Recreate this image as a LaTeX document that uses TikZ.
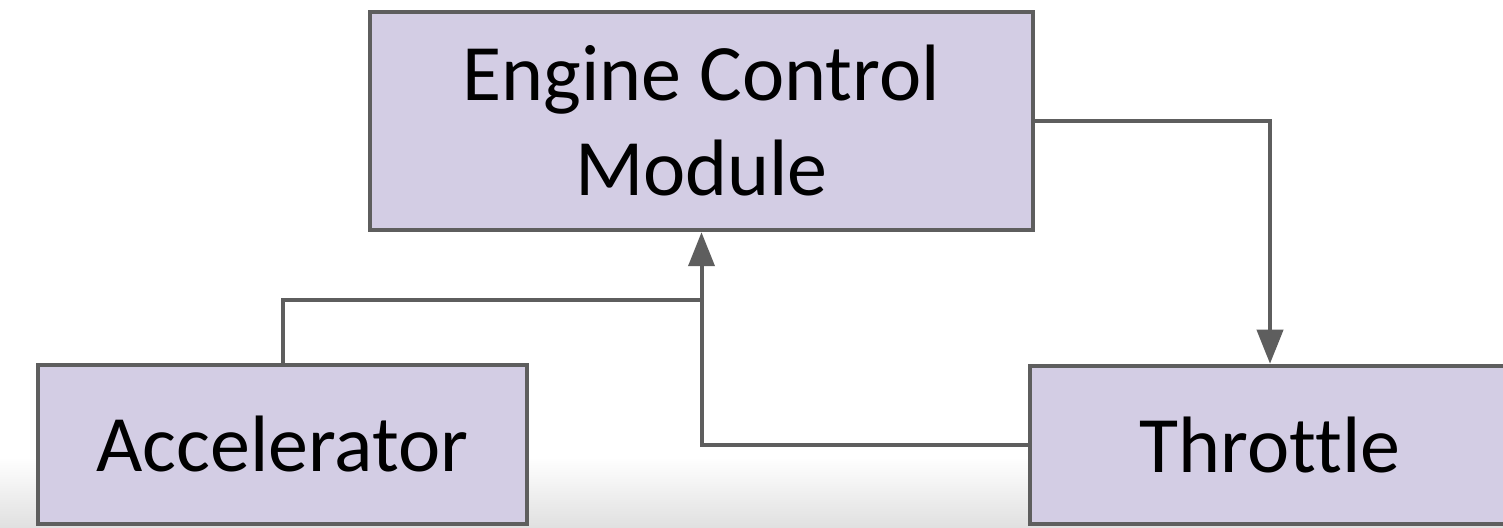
\documentclass[tikz,border=0pt]{standalone}
\usepackage{fontspec}
\setmainfont[Ligatures={NoCommon}]{Carlito}
\usetikzlibrary{arrows.meta,calc}
\definecolor{boxfill}{HTML}{D3CDE4}
\definecolor{edgegray}{HTML}{5E5E5E}
\begin{document}
\begin{tikzpicture}[x=1pt,y=1pt,
  block/.style={draw=edgegray,line width=4.5pt,fill=boxfill,inner sep=0pt,
    align=center,font=\fontsize{80}{95}\selectfont},
  link/.style={draw=edgegray,line width=4pt},
  tip/.style={-{Triangle[width=26pt,length=34pt]}}]
\useasboundingbox (0,0) rectangle (1503,527);
\clip (0,0) rectangle (1503,527);
% page background with a soft grey fade along the lower edge
\fill[white] (0,0) rectangle (1503,527);
\shade[top color=white,bottom color=black!12] (0,0) rectangle (1503,70);
% blocks
\node[block,minimum width=663pt,minimum height=218pt] (ecm) at (701.5,406)
  {Engine Control\\Module};
\node[block,minimum width=489pt,minimum height=159pt] (acc) at (282.5,82.5)
  {Accelerator};
\node[block,minimum width=480pt,minimum height=158pt] (thr) at (1270,82)
  {Throttle};
% signal paths
\coordinate (join) at ($(ecm.south)+(0,-68)$);
\draw[link] (acc.north) |- (join);
\draw[link,tip] (thr.west) -| (ecm.south);
\draw[link,tip] (ecm.east) -| (thr.north);
\end{tikzpicture}
\end{document}
